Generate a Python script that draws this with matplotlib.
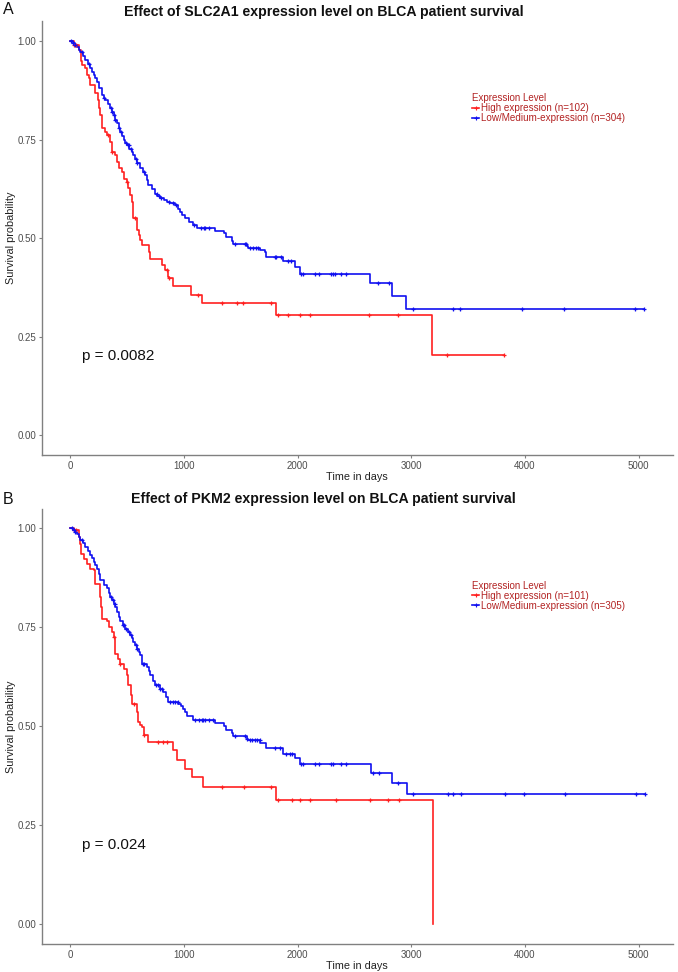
import numpy as np
import matplotlib
matplotlib.use("Agg")
import matplotlib.pyplot as plt
from matplotlib.lines import Line2D

plt.rcParams['font.family'] = ['Liberation Sans', 'DejaVu Sans']

# ---------------- Panel A data (SLC2A1) ----------------
a_titles = "Effect of SLC2A1 expression level on BLCA patient survival"
a_high_label = "High expression (n=102)"
a_low_label = "Low/Medium-expression (n=304)"
a_pval = "p = 0.0082"

a_high_t = [0, 29, 73, 94, 103, 132, 146, 165, 175, 219, 241, 255, 263, 278, 307, 322, 351, 366,
            395, 409, 424, 453, 468, 497, 511, 526, 541, 548, 555, 585, 600, 614, 629, 690, 702,
            804, 835, 855, 870, 906, 1065, 1155, 1810, 3181]
a_high_s = [1.0, 0.99, 0.977, 0.95, 0.939, 0.931, 0.914, 0.905, 0.888, 0.867, 0.85, 0.83, 0.812,
            0.78, 0.77, 0.761, 0.745, 0.719, 0.711, 0.694, 0.677, 0.668, 0.651, 0.643, 0.626, 0.609,
            0.592, 0.57, 0.55, 0.52, 0.508, 0.495, 0.482, 0.465, 0.448, 0.431, 0.419, 0.402, 0.398,
            0.378, 0.357, 0.336, 0.305, 0.203]
a_high_end = 3816
a_high_cens = [35, 50, 330, 370, 500, 570, 850, 870, 1126, 1330, 1462, 1520, 1769, 1827, 1915,
               2023, 2105, 2625, 2880, 3313, 3816]

a_low_t = [0, 20, 40, 58, 75, 88, 110, 132, 155, 175, 190, 205, 220, 234, 255, 278, 295, 307, 330,
           351, 365, 380, 395, 409, 425, 439, 455, 468, 482, 497, 520, 541, 555, 570, 590, 614, 635,
           658, 672, 687, 715, 746, 765, 789, 820, 848, 880, 921, 945, 965, 985, 1009, 1045, 1082,
           1110, 1272, 1351, 1368, 1418, 1427, 1550, 1564, 1667, 1711, 1725, 1871, 1974, 2018, 2640,
           2827, 2953]
a_low_s = [1.0, 0.995, 0.99, 0.985, 0.978, 0.973, 0.962, 0.952, 0.941, 0.931, 0.922, 0.914, 0.905,
           0.897, 0.88, 0.863, 0.856, 0.85, 0.84, 0.829, 0.82, 0.812, 0.80, 0.791, 0.78, 0.77, 0.76,
           0.749, 0.742, 0.736, 0.727, 0.719, 0.71, 0.702, 0.69, 0.677, 0.668, 0.66, 0.648, 0.635,
           0.624, 0.613, 0.607, 0.601, 0.596, 0.592, 0.588, 0.584, 0.575, 0.567, 0.558, 0.55, 0.541,
           0.533, 0.527, 0.519, 0.512, 0.502, 0.494, 0.485, 0.48, 0.475, 0.47, 0.464, 0.452, 0.441,
           0.426, 0.41, 0.385, 0.353, 0.321]
a_low_end = 5044
a_low_cens = [10, 25, 45, 100, 160, 300, 360, 370, 385, 395, 430, 445, 490, 505, 515, 530, 575, 590,
              645, 760, 780, 800, 870, 900, 930, 1090, 1150, 1175, 1184, 1222, 1447, 1535, 1544,
              1579, 1608, 1637, 1652, 1798, 1813, 1857, 1915, 1945, 2033, 2047, 2149, 2187, 2296,
              2310, 2325, 2383, 2421, 2705, 2807, 3012, 3363, 3427, 3977, 4342, 4965, 5044]

# ---------------- Panel B data (PKM2) ----------------
b_titles = "Effect of PKM2 expression level on BLCA patient survival"
b_high_label = "High expression (n=101)"
b_low_label = "Low/Medium-expression (n=305)"
b_pval = "p = 0.024"

b_high_t = [0, 29, 73, 88, 95, 117, 146, 175, 205, 219, 263, 272, 278, 322, 336, 366, 380, 390, 395,
            420, 439, 468, 497, 511, 530, 541, 585, 599, 614, 629, 644, 687, 906, 935, 1009, 1067,
            1170, 1813, 3193]
b_high_s = [1.0, 0.995, 0.978, 0.961, 0.936, 0.923, 0.911, 0.898, 0.894, 0.86, 0.826, 0.80, 0.772,
            0.767, 0.751, 0.738, 0.725, 0.70, 0.683, 0.67, 0.658, 0.645, 0.629, 0.603, 0.58, 0.557,
            0.536, 0.51, 0.503, 0.498, 0.478, 0.461, 0.44, 0.416, 0.393, 0.371, 0.347, 0.313, 0.0]
b_high_end = 3193
b_high_cens = [35, 50, 380, 440, 560, 649, 775, 818, 848, 1330, 1529, 1763, 1827, 1953, 2023, 2111,
               2333, 2632, 2792, 2889]

b_low_t = [0, 20, 40, 58, 75, 88, 110, 132, 155, 175, 190, 205, 220, 234, 250, 263, 292, 322, 340,
           351, 365, 380, 395, 409, 425, 439, 460, 482, 505, 526, 540, 555, 570, 585, 600, 614, 629,
           673, 690, 702, 725, 746, 789, 819, 840, 862, 950, 970, 994, 1010, 1024, 1082, 1272, 1351,
           1368, 1418, 1433, 1550, 1564, 1672, 1719, 1871, 1974, 2018, 2646, 2830, 2959]
b_low_s = [1.0, 0.995, 0.99, 0.986, 0.978, 0.97, 0.962, 0.953, 0.943, 0.932, 0.924, 0.915, 0.907,
           0.898, 0.885, 0.869, 0.858, 0.848, 0.836, 0.826, 0.818, 0.809, 0.80, 0.788, 0.777, 0.767,
           0.756, 0.746, 0.738, 0.73, 0.722, 0.713, 0.705, 0.696, 0.688, 0.679, 0.658, 0.65, 0.64,
           0.629, 0.615, 0.603, 0.595, 0.586, 0.573, 0.561, 0.557, 0.55, 0.544, 0.535, 0.527, 0.516,
           0.509, 0.50, 0.49, 0.482, 0.475, 0.469, 0.465, 0.457, 0.444, 0.431, 0.419, 0.404, 0.381,
           0.356, 0.328]
b_low_end = 5059
b_low_cens = [15, 30, 45, 100, 360, 375, 390, 460, 475, 490, 515, 530, 575, 590, 635, 650, 750, 770,
              790, 810, 880, 900, 920, 945, 1100, 1130, 1160, 1170, 1184, 1222, 1257, 1447, 1535,
              1550, 1579, 1594, 1623, 1643, 1667, 1798, 1842, 1895, 1930, 1953, 2033, 2047, 2149,
              2187, 2296, 2310, 2383, 2427, 2661, 2713, 2880, 3012, 3319, 3369, 3436, 3825, 3991,
              4351, 4977, 5059]

x_ticks = [0, 1000, 2000, 3000, 4000, 5000]
y_ticks = [0.0, 0.25, 0.5, 0.75, 1.0]
y_ticklabels = ["0.00", "0.25", "0.50", "0.75", "1.00"]

RED = "#FF2020"
BLUE = "#1010F0"
LEG_COL = "#B22222"
GRAY_TXT = "#4D4D4D"

W, H = 678, 972
fig = plt.figure(figsize=(W / 100, H / 100), dpi=100)


def km(ax, t, s, end, cens, color):
    t = np.asarray(t, float)
    s = np.asarray(s, float)
    tt = np.append(t, end) if end > t[-1] else t
    ss = np.append(s, s[-1]) if end > t[-1] else s
    ax.step(tt, ss, where='post', color=color, lw=1.2, zorder=3)
    c = np.asarray(cens, float)
    idx = np.searchsorted(t, c, side='right') - 1
    ax.plot(c, s[idx], linestyle='none', marker='+', ms=3.5, mew=0.9, color=color, zorder=4)


def panel(rect, title, hi, lo, hi_lab, lo_lab, pval, letter, letter_y, title_y):
    ax = fig.add_axes(rect)
    km(ax, *hi, RED)
    km(ax, *lo, BLUE)
    ax.set_xlim(-252, 5302)
    ax.set_ylim(-0.05, 1.05)
    ax.set_xticks(x_ticks)
    ax.set_yticks(y_ticks)
    ax.set_yticklabels(y_ticklabels)
    for sp in ['top', 'right']:
        ax.spines[sp].set_visible(False)
    for sp in ['left', 'bottom']:
        ax.spines[sp].set_color('#808080')
        ax.spines[sp].set_linewidth(1.0)
    ax.tick_params(axis='both', colors='#808080', labelcolor=GRAY_TXT, labelsize=7.0,
                   length=2.5, width=0.8, pad=1.5)
    ax.set_xlabel("Time in days", fontsize=7.8, color='#222222', labelpad=1.0)
    ax.set_ylabel("Survival probability", fontsize=7.8, color='#222222', labelpad=1.0)
    ax.text(100, 0.2, pval, fontsize=11, ha='left', va='center', color='#111111')
    handles = [Line2D([], [], color=RED, lw=1.2, marker='+', ms=3, mew=0.8),
               Line2D([], [], color=BLUE, lw=1.2, marker='+', ms=3, mew=0.8)]
    leg = ax.legend(handles, [hi_lab, lo_lab], title="Expression Level", loc='upper left',
                    bbox_to_anchor=(0.682, 0.834), frameon=False, fontsize=7.1,
                    title_fontsize=7.0, handlelength=0.7, handletextpad=0.15,
                    labelspacing=0.0, borderpad=0, borderaxespad=0, alignment='left')
    for txt in leg.get_texts():
        txt.set_color(LEG_COL)
    leg.get_title().set_color(LEG_COL)
    fig.text(323.5 / W, 1 - title_y / H, title, fontsize=10.15, fontweight='bold',
             ha='center', va='center', color='#111111')
    fig.text(3 / W, 1 - letter_y / H, letter, fontsize=11.5, ha='left', va='center', color='#111111')
    return ax


panel([41.7 / W, 1 - 455 / H, (673 - 41.7) / W, (455 - 21.3) / H], a_titles,
      (a_high_t, a_high_s, a_high_end, a_high_cens), (a_low_t, a_low_s, a_low_end, a_low_cens),
      a_high_label, a_low_label, a_pval, "A", 10, 12)
panel([41.7 / W, 1 - 944 / H, (673 - 41.7) / W, (944 - 508.5) / H], b_titles,
      (b_high_t, b_high_s, b_high_end, b_high_cens), (b_low_t, b_low_s, b_low_end, b_low_cens),
      b_high_label, b_low_label, b_pval, "B", 499, 499)

fig.savefig("out.png", dpi=100, facecolor='white')
